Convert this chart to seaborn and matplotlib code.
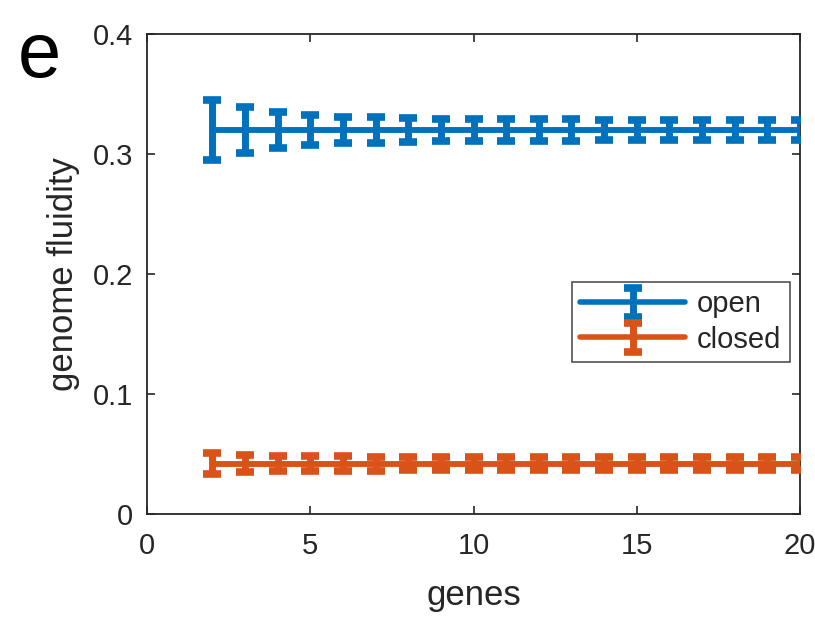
import numpy as np
import pandas as pd
import matplotlib
matplotlib.use("Agg")
import matplotlib.pyplot as plt
import seaborn as sns

genes = list(range(2, 21))
open_mean = [0.320] * 19
open_err = [0.025, 0.019, 0.015, 0.0125, 0.011, 0.0105, 0.0098, 0.0095, 0.0093, 0.009,
            0.009, 0.0088, 0.0087, 0.0086, 0.0085, 0.0084, 0.0083, 0.0082, 0.0081]
closed_mean = [0.042] * 19
closed_err = [0.009, 0.007, 0.0065, 0.006, 0.006, 0.0058, 0.0057, 0.0056, 0.0055, 0.0055,
              0.0054, 0.0054, 0.0053, 0.0053, 0.0052, 0.0052, 0.0052, 0.0051, 0.0051]
x_ticks = [0, 5, 10, 15, 20]
y_ticks = [0, 0.1, 0.2, 0.3, 0.4]
y_tick_labels = ["0", "0.1", "0.2", "0.3", "0.4"]

c_open = "#0072BD"
c_closed = "#D95319"

sns.set_style("ticks")
plt.rcParams['font.family'] = ['Liberation Sans', 'DejaVu Sans']

fig = plt.figure(figsize=(8.15, 6.22), dpi=100)
ax = fig.add_axes([147 / 815, 1 - 514 / 622, 653 / 815, 480 / 622])

df = pd.DataFrame({
    "genes": genes * 2,
    "fluidity": open_mean + closed_mean,
    "type": ["open"] * 19 + ["closed"] * 19,
})
sns.lineplot(data=df, x="genes", y="fluidity", hue="type",
             palette={"open": c_open, "closed": c_closed},
             linewidth=4, legend=False, ax=ax)

for m, e, c, lab in [(open_mean, open_err, c_open, "open"),
                     (closed_mean, closed_err, c_closed, "closed")]:
    ax.errorbar(genes, m, yerr=e, fmt='-', color=c, lw=4, elinewidth=5,
                capsize=6.5, capthick=5.5, label=lab, zorder=3)

ax.set_xlim(0, 20)
ax.set_ylim(0, 0.4)
ax.set_xticks(x_ticks)
ax.set_yticks(y_ticks)
ax.set_yticklabels(y_tick_labels)
ax.tick_params(direction='in', labelsize=21, length=6, width=1.2, colors='#262626',
               top=True, right=True)
ax.tick_params(axis='x', pad=13)
ax.tick_params(axis='y', pad=10)
for s in ax.spines.values():
    s.set_visible(True)
    s.set_linewidth(1.3)
    s.set_color('#262626')
ax.set_xlabel("genes", fontsize=25, color='#262626', labelpad=14)
ax.set_ylabel("genome fluidity", fontsize=25, color='#262626', labelpad=9)

leg = ax.legend(loc='center right', bbox_to_anchor=(0.985, 0.40), fontsize=21,
                frameon=True, fancybox=False, edgecolor='#262626', handlelength=3.6,
                borderpad=0.3, labelspacing=0.25, handletextpad=0.4, borderaxespad=0)
leg.get_frame().set_linewidth(1.2)

fig.text(18 / 815, 1 - 77 / 622, "e", fontsize=56, color='black', va='baseline')

fig.savefig("out.png", dpi=100)
